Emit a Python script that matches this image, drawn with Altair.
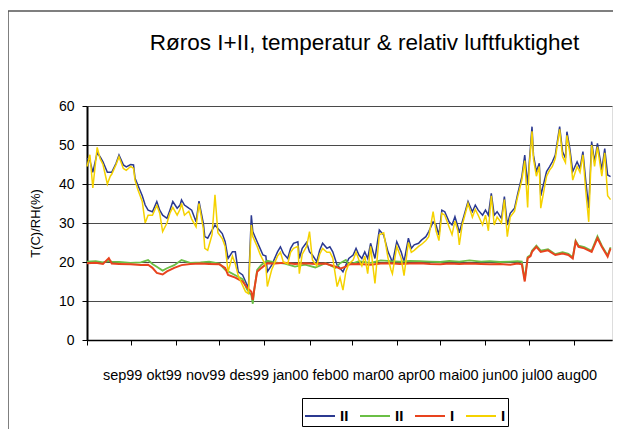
import altair as alt
import pandas as pd

# ---------------- data ----------------
months = ["sep99", "okt99", "nov99", "des99", "jan00", "feb00",
          "mar00", "apr00", "mai00", "jun00", "jul00", "aug00"]
month_start_days = [0, 30, 61, 91, 122, 153, 182, 213, 243, 274, 304, 335]

# relative humidity, days since 1 Sep 1999
days_rh = [
    0, 2, 4, 7, 9, 11, 14, 16, 17, 20,
    22, 25, 27, 30, 32, 33, 35, 38, 40, 42,
    45, 48, 50, 52, 55, 57, 59, 62, 64, 65,
    67, 70, 72, 75, 77, 80, 81, 83, 86, 88,
    90, 93, 95, 97, 100, 102, 104, 107, 109, 111,
    113, 114, 117, 119, 121, 123, 124, 127, 131, 133,
    135, 138, 140, 142, 145, 146, 148, 151, 153, 155,
    158, 160, 162, 165, 167, 169, 172, 174, 176, 178,
    180, 183, 185, 187, 189, 191, 193, 195, 198, 201,
    204, 207, 209, 210, 213, 216, 218, 221, 223, 225,
    228, 230, 233, 235, 238, 240, 242, 244, 246, 249,
    251, 253, 255, 256, 258, 262, 265, 267, 269, 272,
    274, 276, 278, 280, 282, 285, 287, 289, 291, 294,
    296, 299, 301, 303, 304, 306, 307, 309, 311, 312,
    316, 318, 320, 322, 325, 327, 329, 330, 332, 334,
    337, 339, 341, 343, 345, 347, 349, 351, 354, 356,
    358, 360]

rh_ii = [
    46.6, 46.0, 43.0, 48.0, 47.0, 45.7, 43.0, 43.0, 43.0, 45.3,
    47.4, 44.9, 44.4, 45.0, 44.9, 41.5, 39.7, 37.0, 34.6, 33.3,
    32.9, 35.5, 33.3, 32.0, 31.2, 33.3, 35.5, 33.8, 34.6, 35.9,
    34.6, 33.8, 33.3, 30.3, 35.6, 29.9, 26.5, 26.1, 28.2, 29.5,
    28.6, 27.3, 25.2, 20.9, 22.6, 22.6, 17.5, 16.7, 15.0, 13.3,
    32.0, 27.8, 25.2, 23.5, 21.8, 21.5, 17.5, 19.2, 22.6, 23.9,
    22.2, 20.9, 23.5, 24.8, 25.2, 20.9, 23.5, 25.0, 22.6, 21.8,
    20.1, 23.0, 24.8, 23.5, 23.9, 22.6, 19.2, 18.4, 17.5, 19.2,
    20.9, 21.8, 23.5, 21.8, 20.9, 22.6, 20.9, 24.8, 20.9, 28.2,
    26.9, 22.6, 20.9, 19.7, 25.2, 22.6, 20.1, 26.1, 23.5, 24.4,
    24.8, 25.6, 26.5, 27.8, 30.3, 29.5, 26.9, 33.3, 32.9, 30.3,
    29.5, 31.6, 29.1, 27.5, 30.3, 35.5, 32.9, 34.6, 33.3, 32.0,
    33.3, 32.0, 37.6, 32.0, 32.9, 31.2, 36.8, 29.5, 32.5, 33.8,
    37.2, 41.9, 47.4, 39.7, 44.9, 54.7, 47.4, 43.2, 45.3, 37.0,
    43.2, 44.4, 45.7, 47.4, 54.7, 48.3, 46.6, 53.4, 49.1, 43.2,
    45.7, 44.0, 48.3, 40.6, 33.8, 50.9, 45.7, 50.4, 43.6, 49.1,
    42.3, 41.9]

rh_i = [
    44.5, 47.5, 39.0, 49.4, 46.5, 45.0, 40.0, 42.0, 42.5, 45.0,
    47.0, 44.0, 43.5, 44.5, 44.0, 41.0, 38.5, 35.5, 30.0, 32.0,
    32.0, 34.5, 32.5, 27.8, 30.0, 32.5, 34.0, 32.0, 33.5, 35.0,
    32.0, 33.0, 31.0, 29.0, 35.0, 28.5, 23.5, 23.0, 27.0, 37.2,
    27.5, 26.0, 24.0, 17.5, 21.5, 19.5, 16.5, 14.0, 12.4, 11.9,
    29.5, 26.5, 24.0, 22.0, 20.5, 19.0, 13.7, 18.0, 21.5, 22.5,
    20.0, 19.5, 22.5, 23.5, 24.0, 17.0, 22.0, 24.0, 27.8, 20.5,
    19.0, 22.0, 23.5, 22.5, 22.5, 21.0, 13.7, 16.0, 12.8, 17.5,
    19.5, 20.5, 22.5, 20.5, 19.0, 21.5, 17.0, 24.0, 14.5, 27.0,
    27.5, 21.0, 18.0, 17.0, 24.0, 21.0, 16.5, 25.0, 22.5, 23.0,
    24.0, 24.5, 25.5, 26.5, 32.9, 28.0, 25.5, 32.5, 32.0, 29.0,
    27.0, 30.5, 28.0, 24.4, 29.5, 35.0, 31.5, 33.5, 32.0, 29.5,
    32.0, 28.0, 37.0, 29.5, 31.5, 30.0, 36.0, 26.5, 31.5, 33.0,
    36.5, 41.0, 46.0, 34.0, 44.0, 53.5, 46.5, 42.0, 44.5, 33.8,
    42.0, 43.5, 44.5, 46.5, 54.0, 47.0, 45.5, 52.5, 48.0, 41.0,
    44.5, 43.0, 47.5, 38.0, 30.3, 50.0, 44.5, 49.5, 42.0, 48.0,
    37.0, 36.0]

# temperature, days since 1 Sep 1999
days_t = [
    0, 6, 11, 15, 17, 22, 30, 37, 42, 45,
    48, 52, 55, 60, 65, 71, 78, 84, 91, 95,
    97, 102, 107, 110, 113, 114, 115, 117, 120, 124,
    129, 136, 143, 150, 157, 164, 171, 174, 178, 180,
    187, 195, 202, 209, 215, 222, 229, 236, 243, 249,
    256, 263, 271, 277, 284, 291, 296, 299, 301, 303,
    305, 306, 309, 312, 317, 322, 327, 331, 334, 336,
    338, 342, 347, 351, 354, 358, 360]

t_ii = [
    20.1, 20.2, 19.9, 20.3, 20.1, 20.0, 19.8, 19.9, 20.5, 19.5,
    18.8, 17.8, 18.4, 19.2, 20.5, 19.8, 19.9, 20.1, 19.6, 18.0,
    17.6, 16.6, 15.6, 13.0, 11.5, 9.3, 12.8, 18.0, 19.3, 20.3,
    19.9, 19.6, 18.8, 19.3, 18.6, 19.7, 18.5, 19.7, 20.5, 19.3,
    20.2, 19.8, 20.4, 20.2, 20.1, 20.3, 20.2, 20.1, 20.0, 20.3,
    20.1, 20.4, 20.1, 20.2, 20.0, 20.1, 20.2, 20.1, 15.5, 21.3,
    21.8, 22.9, 24.2, 22.9, 23.3, 22.0, 22.5, 22.1, 21.2, 25.5,
    24.2, 23.8, 22.9, 26.6, 24.2, 21.7, 23.8]

t_i = [
    19.7, 19.8, 19.5, 21.0, 19.6, 19.5, 19.4, 19.2, 19.3, 18.5,
    17.2, 16.8, 17.6, 18.5, 19.2, 19.5, 19.6, 19.5, 19.4, 18.5,
    16.7, 16.0, 15.0, 13.5, 12.4, 10.3, 13.0, 17.5, 18.5, 19.7,
    19.6, 19.8, 19.5, 19.7, 19.5, 19.6, 18.8, 18.3, 18.8, 19.4,
    19.5, 19.3, 19.6, 19.7, 19.5, 19.6, 19.7, 19.5, 19.4, 19.6,
    19.5, 19.6, 19.5, 19.4, 19.5, 19.3, 19.6, 19.4, 15.0, 21.0,
    21.5, 22.6, 23.9, 22.6, 23.0, 21.8, 22.2, 21.8, 20.9, 25.2,
    23.9, 23.5, 22.6, 26.1, 23.9, 21.4, 23.5]

series_keys = ["II RH", "II T", "I T", "I RH"]
series_colors = ["#2b3990", "#6abf45", "#e8431e", "#f5d200"]
y_ticks = [0, 10, 20, 30, 40, 50, 60]

# ---------------- build table ----------------
frames = [
    pd.DataFrame({"dag": days_rh, "verdi": rh_ii, "serie": "II RH"}),
    pd.DataFrame({"dag": days_t, "verdi": t_ii, "serie": "II T"}),
    pd.DataFrame({"dag": days_t, "verdi": t_i, "serie": "I T"}),
    pd.DataFrame({"dag": days_rh, "verdi": rh_i, "serie": "I RH"}),
]
df = pd.concat(frames, ignore_index=True)

FONT = "Liberation Sans"

x_enc = alt.X(
    "dag:Q",
    scale=alt.Scale(domain=[0, 361], nice=False, zero=False),
    axis=alt.Axis(
        values=month_start_days, labels=False, grid=False,
        ticks=True, tickSize=5, tickColor="black", tickWidth=1,
        domainColor="black", domainWidth=1.5,
        title=" ".join(months), titleFont=FONT, titleFontSize=14.5,
        titleFontWeight="normal", titleColor="black",
        titleY=35, titleBaseline="middle",
    ),
)
y_enc = alt.Y(
    "verdi:Q",
    scale=alt.Scale(domain=[0, 60], nice=False),
    axis=alt.Axis(
        values=y_ticks, grid=True, gridColor="#4a4a4a", gridWidth=1,
        ticks=True, tickSize=5, tickColor="black",
        domainColor="black", domainWidth=2,
        labelFont=FONT, labelFontSize=14, labelColor="black", labelPadding=8,
        title="T(C)/RH(%)", titleFont=FONT, titleFontSize=13,
        titleFontWeight="normal", titleColor="black",
        titleX=-52, titleY=117, titleAngle=270,
        titleAlign="center", titleBaseline="middle",
    ),
)
color_enc = alt.Color(
    "serie:N",
    scale=alt.Scale(domain=series_keys, range=series_colors),
    legend=alt.Legend(
        title=None, orient="none", legendX=215, legendY=292,
        direction="horizontal", symbolType="stroke", symbolSize=900,
        symbolStrokeWidth=2, labelFont=FONT, labelFontSize=15,
        labelFontWeight="bold", labelColor="black", labelOffset=4,
        columnPadding=7, padding=2, strokeColor="black",
        fillColor="white", cornerRadius=0,
        labelExpr="split(datum.label, ' ')[0]",
    ),
)

base = alt.Chart(df)
widths = {"II RH": 1.5, "II T": 1.8, "I T": 2.0, "I RH": 1.5}
lines = [
    base.transform_filter(alt.datum.serie == k)
    .mark_line(strokeWidth=widths[k])
    .encode(x=x_enc, y=y_enc, color=color_enc)
    for k in series_keys
]

frame_df = pd.DataFrame({"r": [0]})
frame_left = alt.Chart(frame_df).mark_rule(color="#555555", strokeWidth=1.5).encode(
    x=alt.value(-79), y=alt.value(-95), y2=alt.value(330))
frame_top = alt.Chart(frame_df).mark_rule(color="#555555", strokeWidth=1.5).encode(
    x=alt.value(-79), x2=alt.value(530), y=alt.value(-95))

chart = alt.layer(frame_left, frame_top, *lines).properties(
    width=525, height=234,
    padding={"left": 79, "top": 98, "right": 1, "bottom": 89},
    autosize=alt.AutoSizeParams(type="none"),
    title=alt.TitleParams(
        text="Røros I+II, temperatur & relativ luftfuktighet",
        font=FONT, fontSize=22.5, fontWeight="normal", color="black",
        anchor="middle", dx=15, offset=-44,
    ),
).configure_view(stroke="#999999", strokeWidth=1).configure(background="white")

chart.save("out.html", embed_options={"renderer": "svg", "actions": False})
